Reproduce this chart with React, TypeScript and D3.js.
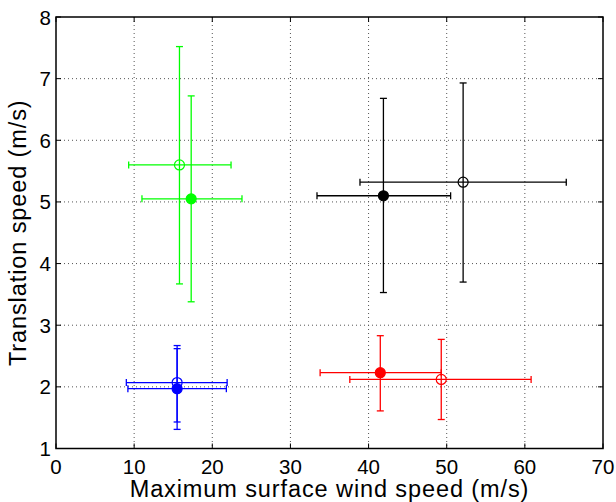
import React from "react";
import * as d3 from "d3";

const colors = ["#00ff00", "#00ff00", "#000000", "#000000", "#ff0000", "#ff0000", "#0000ff", "#0000ff"];
const filled = [false, true, true, false, true, false, false, true];
const xVal = [15.8, 17.3, 41.9, 52.1, 41.5, 49.3, 15.5, 15.5];
const xLo = [9.3, 11.0, 33.4, 38.9, 33.8, 37.6, 9.0, 9.2];
const xHi = [22.4, 23.8, 50.5, 65.3, 49.3, 60.8, 21.9, 21.8];
const yVal = [5.6, 5.05, 5.1, 5.32, 2.23, 2.12, 2.07, 1.97];
const yLo = [3.67, 3.38, 3.53, 3.7, 1.61, 1.47, 1.43, 1.31];
const yHi = [7.52, 6.72, 6.68, 6.93, 2.83, 2.77, 2.67, 2.62];
const xTicks = [0, 10, 20, 30, 40, 50, 60, 70];
const yTicks = [1, 2, 3, 4, 5, 6, 7, 8];

export default function App() {
  const W = 616, H = 502;
  const L = 56, R = 603, T = 17, B = 448.5;
  const x = d3.scaleLinear().domain([0, 70]).range([L, R]);
  const y = d3.scaleLinear().domain([1, 8]).range([B, T]);
  const font = "Helvetica, Arial, 'Liberation Sans', sans-serif";
  const cap = 3.5;
  return (
    <svg width={W} height={H} style={{ position: "absolute", left: 0, top: 0 }} fontFamily={font}>
      <rect x={0} y={0} width={W} height={H} fill="#fff" />
      {xTicks.slice(1, -1).map((t) => (
        <line key={"gx" + t} x1={x(t)} x2={x(t)} y1={T} y2={B} stroke="#555" strokeWidth={1} strokeDasharray="1 3" />
      ))}
      {yTicks.slice(1, -1).map((t) => (
        <line key={"gy" + t} x1={L} x2={R} y1={y(t)} y2={y(t)} stroke="#555" strokeWidth={1} strokeDasharray="1 3" />
      ))}
      {xVal.map((v, i) => {
        const c = colors[i];
        const cx = x(v), cy = y(yVal[i]);
        return (
          <g key={i} stroke={c} strokeWidth={1.3} fill="none">
            <line x1={x(xLo[i])} x2={x(xHi[i])} y1={cy} y2={cy} />
            <line x1={x(xLo[i])} x2={x(xLo[i])} y1={cy - cap} y2={cy + cap} />
            <line x1={x(xHi[i])} x2={x(xHi[i])} y1={cy - cap} y2={cy + cap} />
            <line x1={cx} x2={cx} y1={y(yLo[i])} y2={y(yHi[i])} />
            <line x1={cx - cap} x2={cx + cap} y1={y(yLo[i])} y2={y(yLo[i])} />
            <line x1={cx - cap} x2={cx + cap} y1={y(yHi[i])} y2={y(yHi[i])} />
            <circle cx={cx} cy={cy} r={5} fill={filled[i] ? c : "none"} strokeWidth={1.2} />
          </g>
        );
      })}
      <rect x={L} y={T} width={R - L} height={B - T} fill="none" stroke="#000" strokeWidth={1.5} />
      {xTicks.map((t) => (
        <g key={"tx" + t}>
          <line x1={x(t)} x2={x(t)} y1={B} y2={B - 5} stroke="#000" />
          <line x1={x(t)} x2={x(t)} y1={T} y2={T + 5} stroke="#000" />
          <text x={x(t)} y={474} textAnchor="middle" fontSize={20.5} fill="#000">{t}</text>
        </g>
      ))}
      {yTicks.map((t) => (
        <g key={"ty" + t}>
          <line x1={L} x2={L + 5} y1={y(t)} y2={y(t)} stroke="#000" />
          <line x1={R} x2={R - 5} y1={y(t)} y2={y(t)} stroke="#000" />
          <text x={51} y={y(t) + 7.5} textAnchor="end" fontSize={20.5} fill="#000">{t}</text>
        </g>
      ))}
      <text x={(L + R) / 2} y={497} textAnchor="middle" fontSize={23.5} letterSpacing={0.9} fill="#000">Maximum surface wind speed (m/s)</text>
      <text transform={`translate(26, ${(T + B) / 2}) rotate(-90)`} textAnchor="middle" fontSize={23.5} letterSpacing={0.9} fill="#000">Translation speed (m/s)</text>
    </svg>
  );
}
